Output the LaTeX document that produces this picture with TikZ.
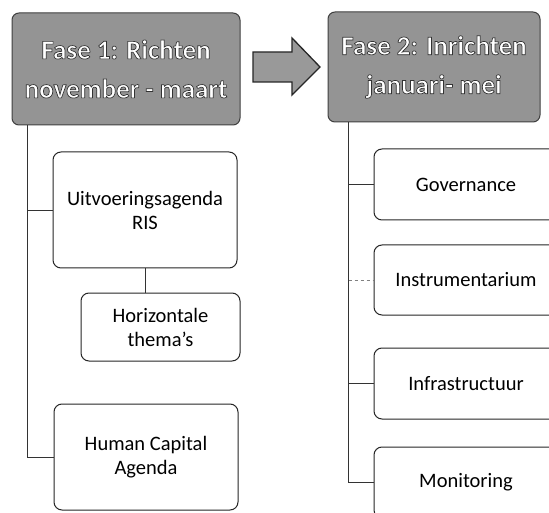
\documentclass[tikz,border=0pt]{standalone}
\usepackage{fontspec}
\setmainfont{Carlito}
\newcommand{\outl}[1]{\special{pdf:literal direct 0.2 G 2 Tr 0.7 w}#1\special{pdf:literal direct 0 Tr}}
\begin{document}
\begin{tikzpicture}[x=1pt,y=-1pt,
  hdr/.style={draw=black!75, line width=1pt, fill=black!42, rounded corners=7pt,
    align=center, font=\fontsize{27}{39}\selectfont\bfseries, text=white, inner sep=0pt},
  item/.style={draw=black!85, line width=1pt, rounded corners=8pt, align=center,
    font=\fontsize{20.5}{24}\selectfont, inner sep=0pt},
  conn/.style={draw=black!80, line width=0.9pt},
  arr/.style={draw=black!85, line width=1.3pt, fill=black!40, line join=miter}]
\useasboundingbox (0,0) rectangle (549,513);
\clip (0,0) rectangle (549,513);
\fill[white] (0,0) rectangle (549,513);
% headers
\node[hdr, minimum width=228pt, minimum height=112pt] (h1) at (126,69)
  {\outl{Fase 1: Richten}\\\outl{november - maart}};
\node[hdr, minimum width=212pt, minimum height=110pt] (h2) at (434,67)
  {\outl{Fase 2: Inrichten}\\\outl{januari- mei}};
% arrow
\draw[arr] (253,52) -- (292,52) -- (292,38) -- (320,67) -- (292,95) -- (292,82) -- (253,82) -- cycle;
% left column
\node[item, minimum width=184pt, minimum height=116pt] (uit) at (145,210) {Uitvoeringsagenda\\RIS};
\node[item, minimum width=159pt, minimum height=68pt] (hor) at (160.5,327) {Horizontale\\thema’s};
\node[item, minimum width=184pt, minimum height=106pt] (hca) at (146,457) {Human Capital\\Agenda};
% right column
\node[item, minimum width=184pt, minimum height=71pt] (gov) at (466,184.5) {Governance};
\node[item, minimum width=184pt, minimum height=70pt] (ins) at (466,280) {Instrumentarium};
\node[item, minimum width=184pt, minimum height=71pt] (inf) at (466,383.5) {Infrastructuur};
\node[item, minimum width=184pt, minimum height=71pt] (mon) at (466,482.5) {Monitoring};
% connectors left
\path (h1.south west) ++(16,0) coordinate (lt);
\draw[conn] (lt) -- (lt |- hca.west) -- (hca.west);
\draw[conn] (lt |- uit.west) -- (uit.west);
\path (uit.south) coordinate (us);
\draw[conn] (us) -- (us |- hor.north);
% connectors right
\path (h2.south west) ++(21,0) coordinate (rt);
\draw[conn] (rt) -- (rt |- mon.west) -- (mon.west);
\draw[conn] (rt |- gov.west) -- (gov.west);
\draw[conn, dashed, draw=black!50] (rt |- ins.west) -- (ins.west);
\draw[conn] (rt |- inf.west) -- (inf.west);
\end{tikzpicture}
\end{document}
